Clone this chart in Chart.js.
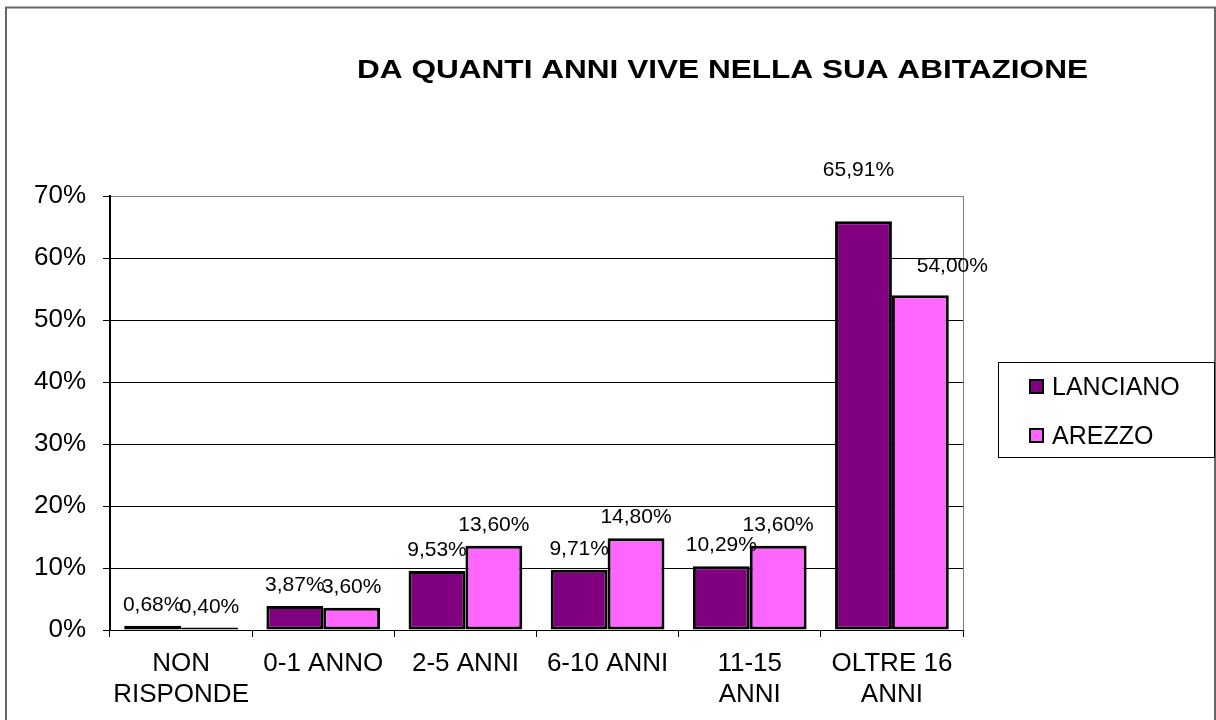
<!DOCTYPE html>
<html lang="it">
<head>
    <meta charset="UTF-8">
    <title>Da quanti anni vive nella sua abitazione</title>
    <script src="https://cdn.jsdelivr.net/npm/chart.js"></script>
    <style>
        body { margin: 0; background: #fff; }
        #wrap { width: 1216px; height: 720px; }
    </style>
</head>
<body>
<div id="wrap"><canvas id="chartAnni" width="1216" height="720"></canvas></div>
<script>
    // Dati (valori in %)
    const categorie = [['NON', 'RISPONDE'], '0-1 ANNO', '2-5 ANNI', '6-10 ANNI', ['11-15', 'ANNI'], ['OLTRE 16', 'ANNI']];
    const lanciano = [0.68, 3.87, 9.53, 9.71, 10.29, 65.91];
    const arezzo = [0.40, 3.60, 13.60, 14.80, 13.60, 54.00];
    const tickY = [0, 10, 20, 30, 40, 50, 60, 70];
    const titolo = 'DA QUANTI ANNI VIVE NELLA SUA ABITAZIONE';

    Chart.defaults.font.family = '"Liberation Sans", Arial, sans-serif';
    Chart.defaults.color = '#000';

    const formatta = v => v.toFixed(2).replace('.', ',') + '%';

    // cornice esterna + titolo
    const sfondo = {
        id: 'sfondo',
        beforeDraw(chart) {
            const ctx = chart.ctx;
            ctx.save();
            ctx.fillStyle = '#fff';
            ctx.fillRect(0, 0, chart.width, chart.height);
            ctx.strokeStyle = '#666';
            ctx.lineWidth = 2;
            ctx.strokeRect(6, 7.5, 1209, 740);
            ctx.font = 'bold 26px "Liberation Sans", Arial, sans-serif';
            ctx.fillStyle = '#000';
            ctx.textBaseline = 'alphabetic';
            const w = ctx.measureText(titolo).width;
            ctx.translate(357, 78);
            ctx.scale(731 / w, 1);
            ctx.fillText(titolo, 0, 0);
            ctx.restore();
        }
    };

    // etichette dei valori sopra le barre
    const spostamenti = { '0-5': [-5, -30], '1-5': [32, -8] };
    const etichette = {
        id: 'etichette',
        afterDatasetsDraw(chart) {
            const ctx = chart.ctx;
            ctx.save();
            ctx.font = '21px "Liberation Sans", Arial, sans-serif';
            ctx.fillStyle = '#000';
            ctx.textAlign = 'center';
            ctx.textBaseline = 'alphabetic';
            chart.data.datasets.forEach((ds, i) => {
                chart.getDatasetMeta(i).data.forEach((bar, j) => {
                    const s = spostamenti[i + '-' + j] || [0, 0];
                    ctx.fillText(formatta(ds.data[j]), bar.x + s[0], bar.y - 15 + s[1]);
                });
            });
            ctx.restore();
        }
    };

    // legenda con riquadro
    const legenda = {
        id: 'legenda',
        afterDraw(chart) {
            const ctx = chart.ctx;
            ctx.save();
            ctx.strokeStyle = '#000';
            ctx.lineWidth = 1;
            ctx.strokeRect(998.5, 362.5, 216, 95);
            ctx.font = '25px "Liberation Sans", Arial, sans-serif';
            ctx.textBaseline = 'alphabetic';
            chart.data.datasets.forEach((ds, i) => {
                const y = 379 + i * 49;
                ctx.fillStyle = ds.backgroundColor;
                ctx.fillRect(1029, y, 15, 15);
                ctx.lineWidth = 2;
                ctx.strokeRect(1030, y + 1, 13, 13);
                ctx.fillStyle = '#000';
                ctx.fillText(ds.label, 1052, y + 16);
            });
            ctx.restore();
        }
    };

    new Chart(document.getElementById('chartAnni'), {
        type: 'bar',
        data: {
            labels: categorie,
            datasets: [{
                label: 'LANCIANO',
                data: lanciano,
                backgroundColor: '#800080',
                borderColor: '#000',
                borderWidth: 3,
                borderSkipped: false,
                categoryPercentage: 0.8,
                barPercentage: 1.0
            }, {
                label: 'AREZZO',
                data: arezzo,
                backgroundColor: '#FF66FF',
                borderColor: '#000',
                borderWidth: 3,
                borderSkipped: false,
                categoryPercentage: 0.8,
                barPercentage: 1.0
            }]
        },
        options: {
            responsive: false,
            devicePixelRatio: 1,
            animation: false,
            layout: { padding: { top: 196, right: 253, bottom: 0, left: 0 } },
            plugins: {
                legend: { display: false },
                title: { display: false },
                tooltip: { enabled: false }
            },
            scales: {
                x: {
                    afterFit: s => { s.height = 90; },
                    border: { color: '#000', width: 1 },
                    grid: {
                        offset: true,
                        drawOnChartArea: true,
                        color: c => c.type === 'scale' ? '#808080' : 'rgba(0,0,0,0)',
                        tickColor: '#000',
                        tickLength: 7
                    },
                    ticks: {
                        font: { size: 26 },
                        padding: 11,
                        maxRotation: 0,
                        autoSkip: false
                    }
                },
                y: {
                    min: 0,
                    max: 70,
                    afterFit: s => { s.width = 110; },
                    afterBuildTicks: s => { s.ticks = tickY.map(v => ({ value: v })); },
                    border: { color: '#000', width: 2 },
                    grid: {
                        color: c => c.tick && c.tick.value === 70 ? '#808080' : '#000',
                        tickColor: '#000',
                        tickLength: 7
                    },
                    ticks: {
                        font: { size: 26 },
                        padding: 17,
                        callback: v => v + '%'
                    }
                }
            }
        },
        plugins: [sfondo, etichette, legenda]
    });
</script>
</body>
</html>
